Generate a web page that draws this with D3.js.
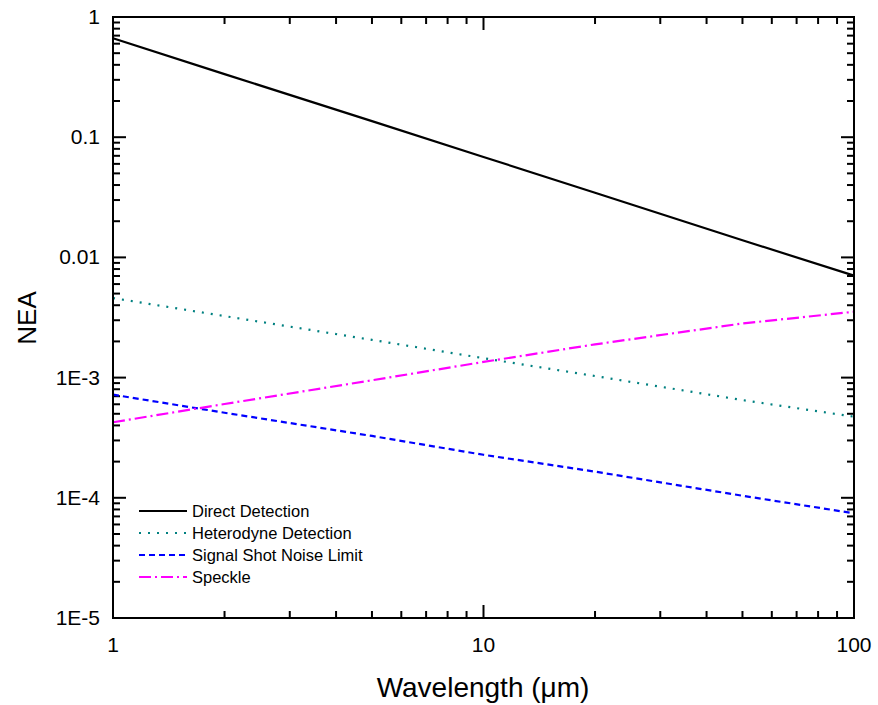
<!DOCTYPE html>
<html>
<head>
<meta charset="utf-8">
<script src="https://d3js.org/d3.v7.min.js"></script>
<style>
  body { margin: 0; background: #fff; }
  svg { font-family: "Liberation Sans", Arial, sans-serif; }
</style>
</head>
<body>
<svg id="chart" width="878" height="705"></svg>
<script>
// wavelengths (um) at which the curves were read
const wavelength = [1, 2, 5, 10, 20, 50, 100];
const directDetection = [0.665, 0.335, 0.136, 0.0685, 0.0345, 0.0139, 0.00705];
const heterodyneDetection = [0.00459, 0.00325, 0.00206, 0.00145, 0.00103, 0.00065, 0.000473];
const shotNoiseLimit = [0.000721, 0.00051, 0.000327, 0.000228, 0.000165, 0.000104, 0.0000743];
const speckle = [0.000425, 0.000603, 0.00095, 0.00135, 0.00189, 0.00282, 0.00353];

const seriesNames = ["Direct Detection", "Heterodyne Detection", "Signal Shot Noise Limit", "Speckle"];
const xTicks = [1, 10, 100];
const yTicks = [1e-5, 1e-4, 1e-3, 0.01, 0.1, 1];
const yTickLabels = ["1E-5", "1E-4", "1E-3", "0.01", "0.1", "1"];

const series = [
  {name: seriesNames[0], values: directDetection, color: "#000000", dash: null},
  {name: seriesNames[1], values: heterodyneDetection, color: "#008080", dash: "2,7"},
  {name: seriesNames[2], values: shotNoiseLimit, color: "#0000ff", dash: "6,4"},
  {name: seriesNames[3], values: speckle, color: "#ff00ff", dash: "12,4,2,4"}
];

const plotL = 113, plotR = 854, plotT = 17, plotB = 618;
const svg = d3.select("#chart");

const x = d3.scaleLog().domain([1, 100]).range([plotL, plotR]);
const y = d3.scaleLog().domain([1e-5, 1]).range([plotB, plotT]);

// minor ticks
const xMinor = [];
for (let d = 1; d < 100; d *= 10) for (let k = 2; k <= 9; k++) xMinor.push(d * k);
const yMinor = [];
for (let e = -5; e < 0; e++) for (let k = 2; k <= 9; k++) yMinor.push(k * Math.pow(10, e));

const g = svg.append("g").attr("stroke", "#000").attr("stroke-width", 2);
function tickX(v, len) {
  g.append("line").attr("x1", x(v)).attr("x2", x(v)).attr("y1", plotB).attr("y2", plotB - len);
  g.append("line").attr("x1", x(v)).attr("x2", x(v)).attr("y1", plotT).attr("y2", plotT + len);
}
function tickY(v, len) {
  g.append("line").attr("y1", y(v)).attr("y2", y(v)).attr("x1", plotL).attr("x2", plotL + len);
  g.append("line").attr("y1", y(v)).attr("y2", y(v)).attr("x1", plotR).attr("x2", plotR - len);
}
xMinor.forEach(v => tickX(v, 7));
xTicks.forEach(v => tickX(v, 13));
yMinor.forEach(v => tickY(v, 7));
yTicks.forEach(v => tickY(v, 13));

// lines
const line = d3.line().x((d, i) => x(wavelength[i])).y(d => y(d));
series.forEach(s => {
  svg.append("path")
    .attr("d", line(s.values))
    .attr("fill", "none")
    .attr("stroke", s.color)
    .attr("stroke-width", 2.2)
    .attr("stroke-dasharray", s.dash);
});

// frame
svg.append("rect")
  .attr("x", plotL).attr("y", plotT)
  .attr("width", plotR - plotL).attr("height", plotB - plotT)
  .attr("fill", "none").attr("stroke", "#000").attr("stroke-width", 2);

// tick labels
svg.selectAll(".xl").data(xTicks).join("text")
  .attr("x", d => x(d)).attr("y", 652)
  .attr("text-anchor", "middle").attr("font-size", 21)
  .text(d => d);
svg.selectAll(".yl").data(yTicks).join("text")
  .attr("x", 100).attr("y", d => y(d) + 7)
  .attr("text-anchor", "end").attr("font-size", 21)
  .text((d, i) => yTickLabels[i]);

// axis titles
svg.append("text")
  .attr("x", 483).attr("y", 697)
  .attr("text-anchor", "middle").attr("font-size", 28)
  .text("Wavelength (μm)");
svg.append("text")
  .attr("transform", "translate(36,318) rotate(-90)")
  .attr("text-anchor", "middle").attr("font-size", 26)
  .text("NEA");

// legend
const leg = svg.append("g");
series.forEach((s, i) => {
  const yy = 511 + i * 22;
  leg.append("line")
    .attr("x1", 139).attr("x2", 187).attr("y1", yy).attr("y2", yy)
    .attr("stroke", s.color).attr("stroke-width", 2)
    .attr("stroke-dasharray", s.dash);
  leg.append("text")
    .attr("x", 192).attr("y", yy + 6)
    .attr("font-size", 16.5)
    .text(s.name);
});
</script>
</body>
</html>
